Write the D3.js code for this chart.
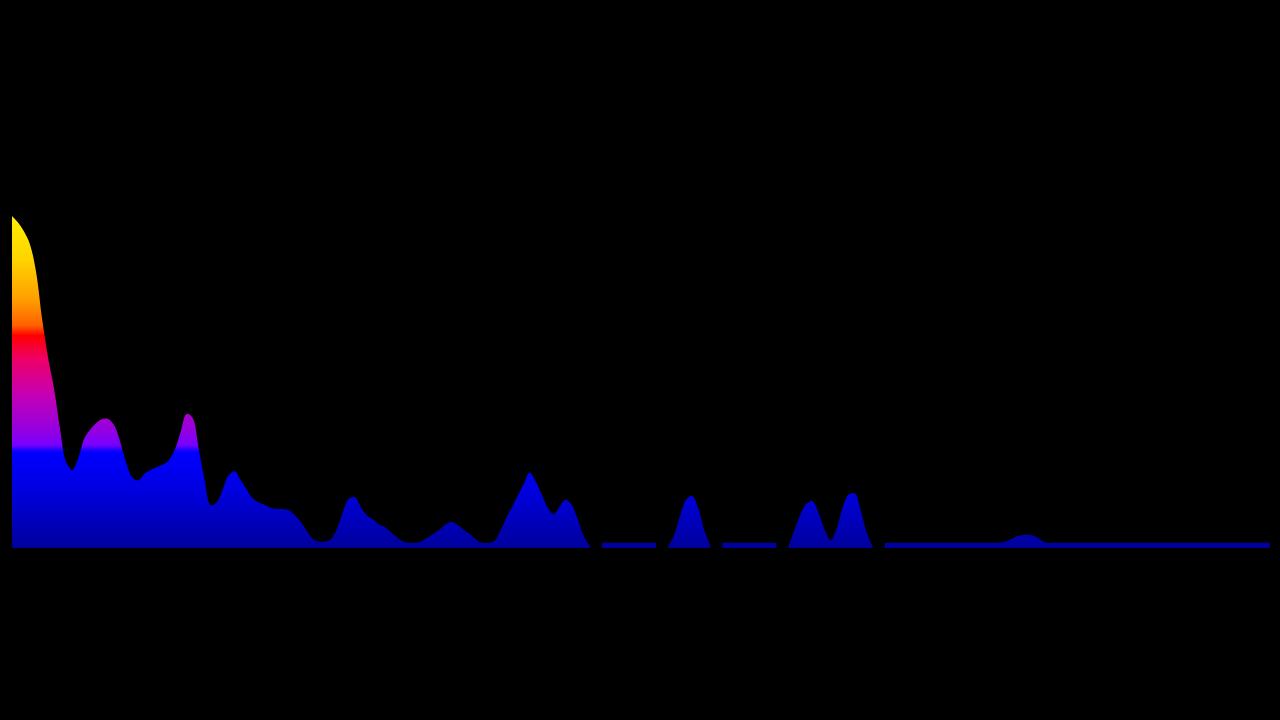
<!DOCTYPE html>
<html>
<head>
<meta charset="utf-8">
<script src="https://cdn.jsdelivr.net/npm/d3@7"></script>
<style>
  html, body { margin: 0; padding: 0; background: #000; }
  svg { display: block; }
</style>
</head>
<body>
<svg id="chart"></svg>
<script>
// frequency bins (byte levels 0-255), null = bin dropped
const levels = [
  255, 250, 243, 233, 212, 176, 146, 122, 91, 66,
  60, 69, 84, 91, 96, 99, 99, 94, 81, 65,
  54, 52, 57, 60, 62, 64, 67, 75, 89, 103,
  100, 77, 52, 33, 35, 45, 56, 59, 52, 45,
  38, 35, 33, 31, 30, 30, 29, 25, 20, 13,
  7, 5, 5, 7, 15, 28, 38, 39, 31, 25,
  22, 18, 16, 12, 8, 5, 4, 4, 5, 8,
  11, 14, 18, 20, 18, 14, 11, 7, 4, 4,
  5, 12, 22, 31, 40, 49, 58, 51, 41, 31,
  26, 32, 37, 33, 22, 9, 2, null, 4, 4,
  4, 4, 4, 4, 4, 4, 4, 4, null, 1,
  10, 25, 37, 40, 31, 14, 2, null, 4, 4,
  4, 4, 4, 4, 4, 4, 4, 4, null, 1,
  14, 26, 34, 36, 27, 14, 6, 15, 31, 41,
  42, 29, 12, 1, null, 4, 4, 4, 4, 4,
  4, 4, 4, 4, 4, 4, 4, 4, 4, 4,
  4, 4, 4, 4, 4, 5, 7, 9, 10, 10,
  9, 6, 4, 4, 4, 4, 4, 4, 4, 4,
  4, 4, 4, 4, 4, 4, 4, 4, 4, 4,
  4, 4, 4, 4, 4, 4, 4, 4, 4, 4,
  4, 4, 4, 4, 4, 4, 4, 4, 4, 4,
];

// colour ramp, top (loud) to bottom (quiet)
const rampOffsets = [0, 0.13, 0.25, 0.33, 0.345, 0.36, 0.43, 0.54, 0.645, 0.69, 0.711, 0.825, 1];
const rampColors = ['#ffee00', '#ffd400', '#ff9f00', '#ff6000', '#ff3000', '#ff0000', '#ee0066',
  '#c400b4', '#9400e0', '#7800ff', '#0000ff', '#0000e0', '#00009c'];

const width = 1280;
const height = 720;

const svg = d3.select('#chart')
  .attr('width', width)
  .attr('height', height);

svg.append('rect')
  .attr('width', width)
  .attr('height', height)
  .attr('fill', '#000');

const xScale = d3.scaleLinear()
  .domain([0, levels.length - 1])
  .range([12, 1270]);

const yScale = d3.scaleLinear()
  .domain([0, 255])
  .range([548, 216]);

const defs = svg.append('defs');

const grad = defs.append('linearGradient')
  .attr('id', 'spectrum')
  .attr('gradientUnits', 'userSpaceOnUse')
  .attr('x1', 0)
  .attr('x2', 0)
  .attr('y1', yScale(255))
  .attr('y2', yScale(0));

grad.selectAll('stop')
  .data(rampOffsets)
  .enter().append('stop')
  .attr('offset', d => d)
  .attr('stop-color', (d, i) => rampColors[i]);

// keep curve overshoot from spilling under the baseline
defs.append('clipPath')
  .attr('id', 'above-zero')
  .append('rect')
  .attr('x', 0)
  .attr('y', 0)
  .attr('width', width)
  .attr('height', yScale(0));

const area = d3.area()
  .defined(d => d !== null)
  .x((d, i) => xScale(i))
  .y0(yScale(0))
  .y1(d => yScale(d))
  .curve(d3.curveCatmullRom.alpha(0.5));

svg.append('path')
  .datum(levels)
  .attr('class', 'spectrum')
  .attr('clip-path', 'url(#above-zero)')
  .attr('fill', 'url(#spectrum)')
  .attr('d', area);
</script>
</body>
</html>
